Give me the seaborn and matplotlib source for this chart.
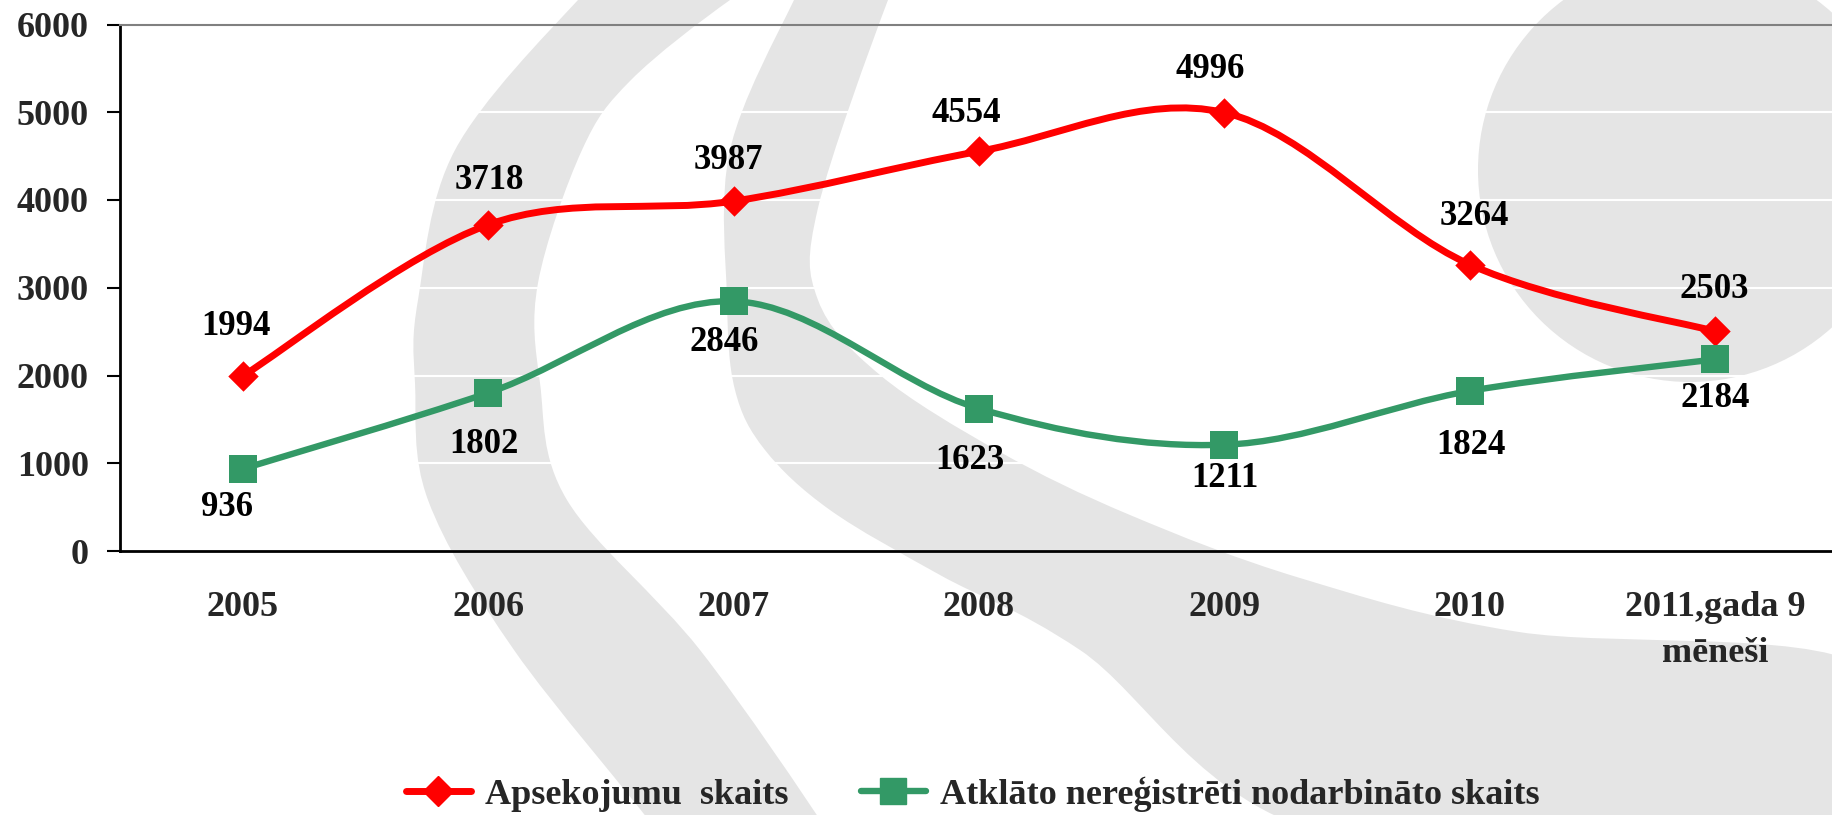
import numpy as np
import matplotlib
matplotlib.use('Agg')
import matplotlib.pyplot as plt
import seaborn as sns
from matplotlib.path import Path
from matplotlib.patches import PathPatch, Circle
from matplotlib.lines import Line2D

# --- chart data ---
CATEGORIES = ['2005', '2006', '2007', '2008', '2009', '2010', '2011,gada 9\nmēneši']
APSEKOJUMI = [1994, 3718, 3987, 4554, 4996, 3264, 2503]
ATKLATI = [936, 1802, 2846, 1623, 1211, 1824, 2184]
SERIES_NAMES = ['Apsekojumu  skaits', 'Atklāto nereģistrēti nodarbināto skaits']
Y_TICKS = [0, 1000, 2000, 3000, 4000, 5000, 6000]

# label nudges (points), as placed in the original workbook
RED_LABEL_OFFSETS = [(-5, 36), (1, 32), (-3.5, 29.5), (-9, 27), (-10, 31), (3.5, 34.5), (-1, 30)]
GREEN_LABEL_OFFSETS = [(-11, -28), (-3, -37.5), (-6.5, -29.5), (-6.5, -37.5), (0, -24), (1, -39), (0, -28)]

RED = '#FF0000'
GREEN = '#339966'
WATERMARK = '#e5e5e5'

# outline of the faint logo behind the plot, in figure pixels
LOGO_BAND_1 = [(650, -60), (578, 0), (455, 150), (418, 300), (415, 383), (428, 500), (514, 650),
               (660, 835), (680, 880), (850, 880), (830, 835), (700, 650), (567, 500), (540, 383),
               (538, 283), (582, 150), (631, 80), (730, 0), (800, -40)]
LOGO_BAND_2 = [(830, -60), (794, 0), (730, 150), (727, 300), (735, 390), (765, 450), (830, 510),
               (940, 575), (1080, 650), (1330, 835), (1860, 835), (1860, 665), (1519, 632),
               (1300, 578), (1130, 515), (1000, 452), (880, 375), (818, 300), (818, 208),
               (888, 0), (920, -60)]
LOGO_DISC = (1690, 170, 212)


def smooth_path(xs, ys):
    """Excel style smoothed line: cubic Bezier through the points."""
    pts = np.column_stack([xs, ys]).astype(float)
    n = len(pts)
    verts, codes = [pts[0]], [Path.MOVETO]
    for i in range(n - 1):
        p0, p1 = pts[max(i - 1, 0)], pts[i]
        p2, p3 = pts[i + 1], pts[min(i + 2, n - 1)]
        verts += [p1 + (p2 - p0) / 6.0, p2 - (p3 - p1) / 6.0, p2]
        codes += [Path.CURVE4] * 3
    return Path(verts, codes)


def closed_smooth(points):
    pts = np.array(points, dtype=float)
    n = len(pts)
    verts, codes = [pts[0]], [Path.MOVETO]
    for i in range(n):
        p0, p1, p2, p3 = pts[i - 1], pts[i], pts[(i + 1) % n], pts[(i + 2) % n]
        verts += [p1 + (p2 - p0) / 6.0, p2 - (p3 - p1) / 6.0, p2]
        codes += [Path.CURVE4] * 3
    return Path(verts, codes)


sns.set_style('white')
plt.rcParams['font.family'] = ['Liberation Serif', 'DejaVu Serif']
plt.rcParams['font.weight'] = 'bold'

W, H = 1832, 815
fig = plt.figure(figsize=(W / 100, H / 100), dpi=100)

# faint logo watermark behind the chart
bg = fig.add_axes([0, 0, 1, 1], zorder=0)
bg.set_xlim(0, W)
bg.set_ylim(H, 0)
bg.axis('off')
for band in [LOGO_BAND_1, LOGO_BAND_2]:
    bg.add_patch(PathPatch(closed_smooth(band), facecolor=WATERMARK, lw=0))
bg.add_patch(Circle(LOGO_DISC[:2], LOGO_DISC[2], color=WATERMARK, lw=0))

ax = fig.add_axes([120 / W, 264 / H, 1718 / W, 526.5 / H], zorder=1)
ax.set_facecolor('none')

x = np.arange(len(CATEGORIES))

# smoothed lines with markers
ax.add_patch(PathPatch(smooth_path(x, APSEKOJUMI), fill=False, edgecolor=RED, lw=5,
                       capstyle='round', joinstyle='round', zorder=3))
sns.scatterplot(x=x, y=APSEKOJUMI, marker='D', s=240, color=RED, linewidth=0, ax=ax, zorder=4)
ax.add_patch(PathPatch(smooth_path(x, ATKLATI), fill=False, edgecolor=GREEN, lw=4.6,
                       capstyle='round', joinstyle='round', zorder=5))
sns.scatterplot(x=x, y=ATKLATI, marker='s', s=400, color=GREEN, linewidth=0, ax=ax, zorder=6)

for i, v in enumerate(APSEKOJUMI):
    ax.annotate(str(v), xy=(i, v), xytext=RED_LABEL_OFFSETS[i], textcoords='offset points',
                ha='center', va='center', fontsize=25, fontweight='bold', color='black', zorder=7)
for i, v in enumerate(ATKLATI):
    ax.annotate(str(v), xy=(i, v), xytext=GREEN_LABEL_OFFSETS[i], textcoords='offset points',
                ha='center', va='center', fontsize=25, fontweight='bold', color='black', zorder=7)

# axes styling
ax.set_xlim(-0.5, len(CATEGORIES) - 0.5)
ax.set_ylim(0, 6000)
ax.set_yticks(Y_TICKS)
ax.set_yticklabels([str(t) for t in Y_TICKS])
ax.set_xticks(x)
ax.set_xticklabels(CATEGORIES)
ax.set_xticks(np.arange(len(CATEGORIES) + 1) - 0.5, minor=True)
ax.tick_params(axis='x', which='major', length=0, pad=29, labelsize=26)
ax.tick_params(axis='x', which='minor', length=9, width=1.5, direction='out', color='black')
ax.tick_params(axis='y', which='major', length=9.5, width=1.5, direction='out', pad=13,
               labelsize=26, color='black', left=True)
ax.set_xlabel('')
ax.set_ylabel('')
ax.yaxis.grid(True, color='white', lw=1.5)
ax.xaxis.grid(False)
ax.set_axisbelow(True)
for side in ['left', 'bottom']:
    ax.spines[side].set_color('black')
    ax.spines[side].set_linewidth(2)
ax.spines['top'].set_color('#808080')
ax.spines['top'].set_linewidth(1.5)
ax.spines['right'].set_visible(False)
for lab in ax.get_xticklabels() + ax.get_yticklabels():
    lab.set_fontweight('bold')
for lab in ax.get_xticklabels():
    lab.set_linespacing(1.5)

handles = [Line2D([], [], color=RED, lw=5, marker='D', markersize=15),
           Line2D([], [], color=GREEN, lw=4.6, marker='s', markersize=19)]
fig.legend(handles, SERIES_NAMES, loc='center', bbox_to_anchor=(0.531, 0.026), ncol=2,
           frameon=False, prop={'size': 26, 'weight': 'bold'}, handlelength=1.8,
           handletextpad=0.4, columnspacing=2.0)

fig.savefig('out.png', dpi=100)
